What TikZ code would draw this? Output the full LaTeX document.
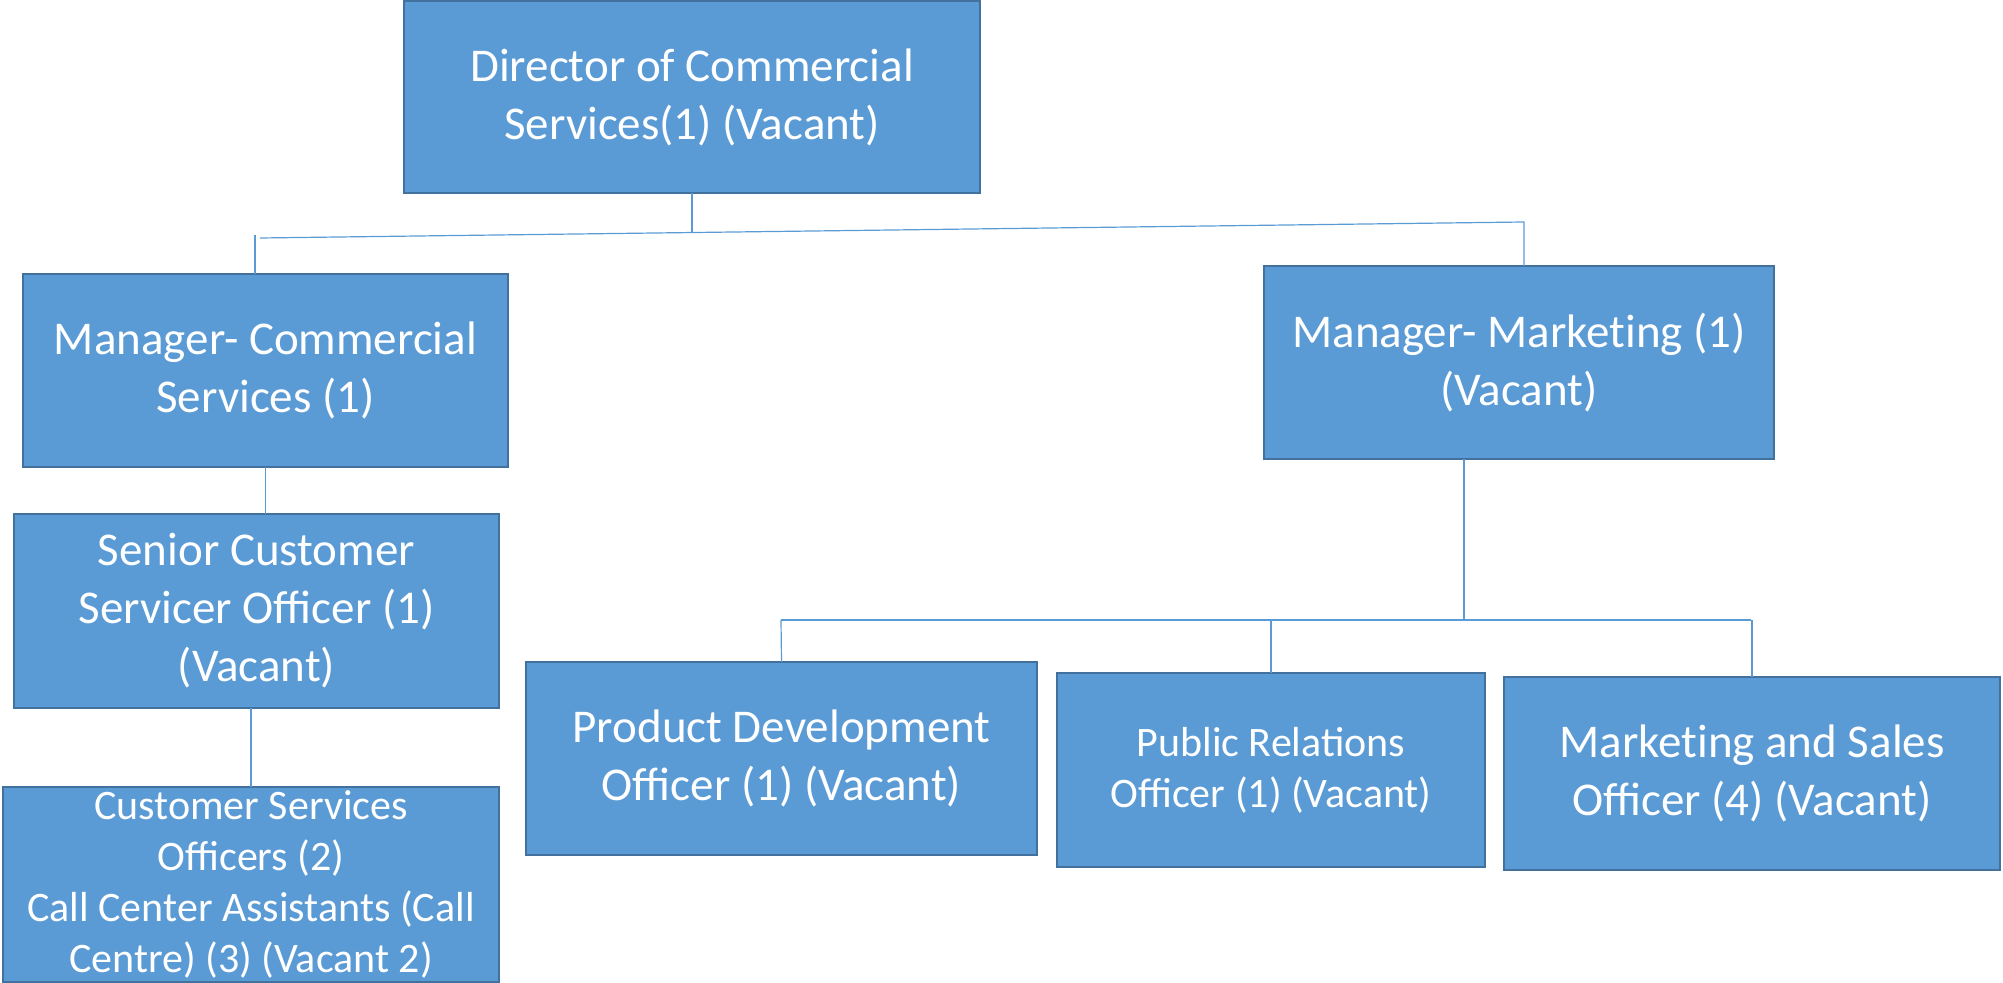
\documentclass[tikz,border=0pt]{standalone}
\usepackage{fontspec}
\setmainfont{Carlito}
\usepackage{tikz}
\usetikzlibrary{calc}
\definecolor{boxfill}{HTML}{5B9BD5}
\definecolor{boxline}{HTML}{41719C}

\begin{document}
\begin{tikzpicture}[x=0.5pt, y=-0.5pt,
    post/.style={draw=boxline, line width=1.2pt, fill=boxfill, text=white, align=center,
      inner sep=0pt, outer sep=0pt, font=\fontsize{23.5}{29}\selectfont},
    small/.style={font=\fontsize{21}{25.5}\selectfont},
    link/.style={draw=boxfill, line width=0.6pt}]
      \useasboundingbox (0,0) rectangle (2003,983);
      \node[post, minimum width=288pt, minimum height=96pt] (dir) at (692,97)
        {Director of Commercial\\Services(1) (Vacant)};
      \node[post, minimum width=242.5pt, minimum height=96.5pt] (mcs) at (265.5,370.5)
        {Manager- Commercial\\Services (1)};
      \node[post, minimum width=255pt, minimum height=96.5pt] (mmk) at (1519,362.5)
        {Manager- Market\kern0pt ing (1)\\(Vacant)};
      \node[post, minimum width=242.5pt, minimum height=97pt] (sen) at (256.5,611)
        {Senior Customer\\Servicer Officer (1)\\(Vacant)};
      \node[post, small, minimum width=248pt, minimum height=97.5pt] (cso) at (251,884.5)
        {Customer Services\\Officers (2)\\Call Center Assistants (Call\\Centre) (3) (Vacant 2)};
      \node[post, minimum width=255.5pt, minimum height=96.5pt] (pdo) at (781.5,758.5)
        {Product Development\\Officer (1) (Vacant)};
      \node[post, small, minimum width=214pt, minimum height=97pt] (pro) at (1271,770)
        {Public Relations\\Officer (1) (Vacant)};
      \node[post, minimum width=248pt, minimum height=96.5pt] (mso) at (1752,773.5)
        {Market\kern0pt ing and Sales\\Officer (4) (Vacant)};
      \coordinate (topL) at (260,238);
      \coordinate (topR) at (1524,222);
      \coordinate (stub) at (255,235);
      \coordinate (mbus) at (1464,620);
      \coordinate (busL) at (781,620);
      \coordinate (busR) at (1751,620);
      \draw[link] (dir.south) -- ++(0,40);
      \draw[link] (topL) -- (topR) -- (topR |- mmk.north);
      \draw[link] (stub) -- (stub |- mcs.north);
      \draw[link] (mcs.south) -- (mcs.south |- sen.north);
      \draw[link] (cso.north) -- (cso.north |- sen.south);
      \draw[link] (mbus |- mmk.south) -- (mbus);
      \draw[link] (busL) -- (busR);
      \draw[link] (busL) -- (pdo.north);
      \draw[link] (pro.north) -- (pro.north |- busL);
      \draw[link] (mso.north) -- (mso.north |- busR);
    \end{tikzpicture}
\end{document}
